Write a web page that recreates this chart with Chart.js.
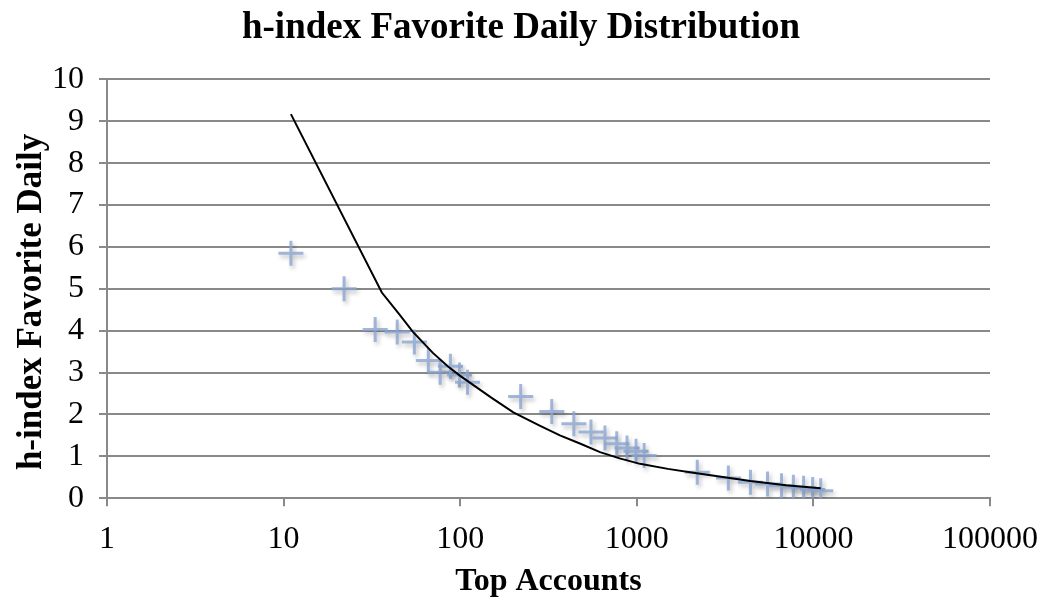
<!DOCTYPE html>
<html>
<head>
<meta charset="utf-8">
<script src="https://cdn.jsdelivr.net/npm/chart.js@4.4.1/dist/chart.umd.min.js"></script>
<style>
  html, body { margin: 0; padding: 0; background: #fff; }
  #wrap { width: 1042px; height: 601px; }
</style>
</head>
<body>
<div id="wrap"><canvas id="chart"></canvas></div>
<script>
// Top accounts (x) and h-index favorite daily (y)
const accounts = [11, 22, 33, 44, 55, 66, 77, 88, 99, 110,
  220, 330, 440, 550, 660, 770, 880, 990, 1100,
  2200, 3300, 4400, 5500, 6600, 7700, 8800, 9900, 11000];
const hIndex = [5.85, 5.0, 4.03, 3.97, 3.73, 3.29, 3.01, 3.15, 2.94, 2.77,
  2.43, 2.07, 1.78, 1.58, 1.44, 1.30, 1.20, 1.12, 1.02,
  0.62, 0.48, 0.38, 0.34, 0.30, 0.26, 0.24, 0.21, 0.18];

// trend line, points
const trendX = [11, 36, 45, 54, 70, 85, 100, 150, 200, 280, 367, 480, 619, 800,
  1042, 1500, 2089, 3000, 4400, 7000, 11000];
const trendY = [9.17, 4.91, 4.40, 3.97, 3.47, 3.15, 2.92, 2.40, 2.05, 1.74, 1.50, 1.30, 1.10, 0.95,
  0.82, 0.70, 0.61, 0.51, 0.41, 0.31, 0.24];

const xTicks = [1, 10, 100, 1000, 10000, 100000];
const yMin = 0, yMax = 10, yStep = 1;

const serif = "'Liberation Serif', 'Times New Roman', serif";
const gridColor = "#898989";

// ombre sous les croix
const shadowPlugin = {
  id: "crossShadow",
  beforeDatasetDraw(chart, args) {
    if (args.meta.type !== "scatter") return;
    const ctx = chart.ctx;
    ctx.save();
    ctx.shadowColor = "rgba(0,0,0,0.3)";
    ctx.shadowBlur = 4;
    ctx.shadowOffsetX = 2;
    ctx.shadowOffsetY = 3;
  },
  afterDatasetDraw(chart, args) {
    if (args.meta.type !== "scatter") return;
    chart.ctx.restore();
  },
};

const ctx = document.getElementById("chart").getContext("2d");
new Chart(ctx, {
  type: "scatter",
  data: {
    datasets: [
      {
        type: "line",
        label: "Trend",
        data: trendX.map((x, i) => ({ x: x, y: trendY[i] })),
        borderColor: "#000",
        borderWidth: 2,
        pointRadius: 0,
        tension: 0,
        fill: false,
        order: 1,
      },
      {
        type: "scatter",
        label: "h-index",
        data: accounts.map((x, i) => ({ x: x, y: hIndex[i] })),
        pointStyle: "cross",
        pointRadius: 12.5,
        pointBorderWidth: 3,
        borderColor: "rgba(137,165,210,0.8)",
        backgroundColor: "rgba(137,165,210,0.8)",
        order: 2,
      },
    ],
  },
  plugins: [shadowPlugin],
  options: {
    responsive: true,
    maintainAspectRatio: false,
    animation: false,
    layout: { padding: { left: 0, right: 0, top: 0, bottom: 0 } },
    plugins: {
      legend: { display: false },
      tooltip: { enabled: false },
      title: {
        display: true,
        text: "h-index Favorite Daily Distribution",
        color: "#000",
        font: { family: serif, size: 37, weight: "bold" },
        padding: { top: 6, bottom: 29 },
      },
    },
    scales: {
      x: {
        type: "logarithmic",
        min: 1,
        max: 100000,
        afterBuildTicks(scale) {
          scale.ticks = xTicks.map((v) => ({ value: v }));
        },
        afterFit(scale) {
          // marge droite fixe, le titre reste centre sur la page
          scale.paddingRight = 52;
        },
        border: { display: true, color: gridColor, width: 2 },
        grid: { drawOnChartArea: false, drawTicks: true, tickLength: 8, color: gridColor, lineWidth: 2 },
        ticks: {
          color: "#000",
          font: { family: serif, size: 32 },
          padding: 14,
          maxRotation: 0,
          autoSkip: false,
          callback: (v) => String(v),
        },
        title: {
          display: true,
          text: "Top Accounts",
          color: "#000",
          font: { family: serif, size: 32, weight: "bold" },
          padding: { top: -10, bottom: 0 },
        },
      },
      y: {
        min: yMin,
        max: yMax,
        border: { display: true, color: gridColor, width: 2 },
        grid: { color: gridColor, lineWidth: 2, tickLength: 8 },
        ticks: {
          stepSize: yStep,
          color: "#000",
          font: { family: serif, size: 32 },
          padding: 15,
        },
        title: {
          display: true,
          text: "h-index Favorite Daily   ",
          color: "#000",
          font: { family: serif, size: 35, weight: "bold" },
          padding: { top: 11, bottom: -16 },
        },
      },
    },
  },
});
</script>
</body>
</html>
